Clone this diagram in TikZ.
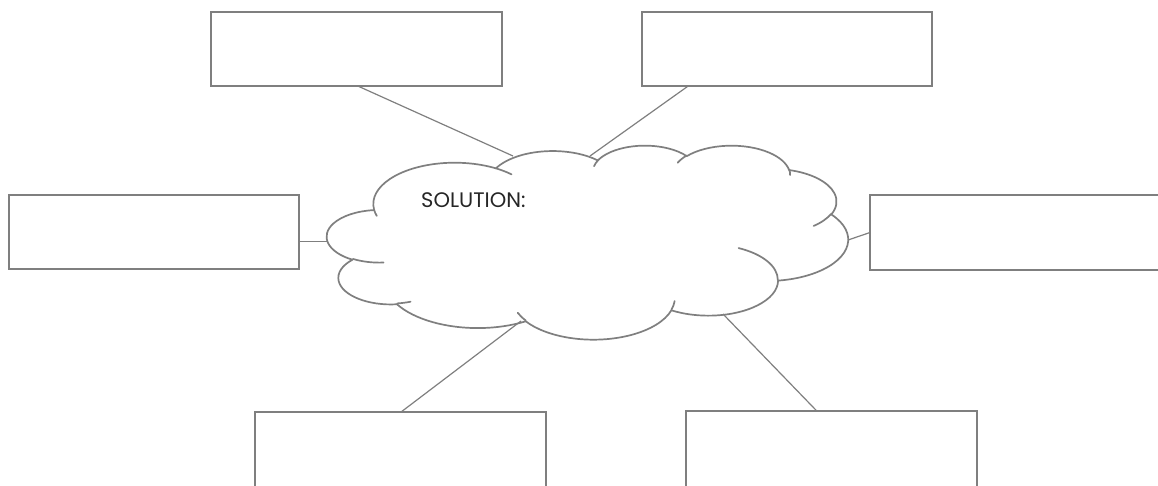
\documentclass[tikz,border=0pt]{standalone}
\usepackage{fontspec}
\setmainfont{Poppins}
\usetikzlibrary{calc}
\definecolor{linegray}{HTML}{7F7F7F}
\definecolor{textgray}{HTML}{262626}
% elliptical arc given with DrawingML "visual" angles
\newcommand\vsarc[4]{arc[x radius=#1, y radius=#2, start angle={visang(#1,#2,#3)}, end angle={visang(#1,#2,#3+#4)}]}
\begin{document}
\begin{tikzpicture}[x=1pt,y=-1pt,
  declare function={visang(\ra,\rb,\th)=\th+Mod(atan2(\ra*sin(\th),\rb*cos(\th))-\th+540,360)-180;},
  boxnode/.style={draw=linegray,line width=2pt,rectangle,minimum width=290.5pt,minimum height=74.5pt,inner sep=0pt,outer sep=0pt},
  link/.style={draw=linegray,line width=1.2pt},
  cloudline/.style={draw=linegray,line width=1.7pt,line join=round,line cap=round},
]
\useasboundingbox (0,0) rectangle (1158,485);
\clip (0,0) rectangle (1158,485);

% boxes
\node[boxnode] (tl) at (356.25,48.85) {};
\node[boxnode] (tr) at (787,48.85) {};
\node[boxnode] (lf) at (154,232.2) {};
\node[boxnode] (rt) at (1015.25,232.5) {};
\node[boxnode,minimum height=84pt] (bl) at (400.35,453.5) {};
\node[boxnode,minimum height=84pt] (br) at (831.35,453) {};

% cloud
\begin{scope}[shift={(327,145)},xscale=1.2060,yscale=0.4490]
\path[cloudline,fill=white] (39.00,143.70)
  \vsarc{67.53}{91.90}{-190.4875}{123.7805}
  \vsarc{53.33}{72.67}{-144.1024}{89.9452}
  \vsarc{43.65}{59.45}{-145.8079}{99.7230}
  \vsarc{48.57}{65.95}{-130.9861}{117.2417}
  \vsarc{53.33}{72.73}{-78.7089}{109.0269}
  \vsarc{67.75}{92.20}{-46.2673}{130.2690}
  \vsarc{57.85}{78.67}{0.6250}{114.0333}
  \vsarc{67.52}{92.15}{22.4516}{115.1726}
  \vsarc{77.20}{105.43}{66.2426}{75.7110}
  \vsarc{43.60}{59.18}{-274.9421}{146.7356}
  \vsarc{43.45}{59.45}{-246.8285}{152.5189}
  -- cycle;
\path[cloudline]
  (46.93,261.77) \vsarc{43.45}{59.45}{86.7420}{26.4295}
  (69.28,348.99) \vsarc{43.60}{59.18}{73.6105}{11.4475}
  (164.78,390.90) \vsarc{67.52}{92.15}{137.6242}{14.0811}
  (288.27,347.51) \vsarc{67.52}{92.15}{6.4533}{15.9984}
  (341.29,229.54) \vsarc{57.85}{78.67}{-70.2924}{70.9174}
  (417.98,153.54) \vsarc{53.33}{72.73}{30.3180}{27.7515}
  (383.24,54.26) \vsarc{48.57}{65.95}{-13.7443}{14.8589}
  (290.78,39.52) \vsarc{48.57}{65.95}{-149.1815}{18.1954}
  (221.41,47.20) \vsarc{43.65}{59.45}{-163.4943}{17.6864}
  (140.00,51.92) \vsarc{67.53}{91.90}{-66.7070}{12.3194}
  (41.27,157.89) \vsarc{67.53}{91.90}{157.6544}{11.8582};
\end{scope}

% attachment points on the cloud
\coordinate (c1) at (513,156);
\coordinate (c2) at (590,156);
\coordinate (c3) at (327.5,241.7);
\coordinate (c4) at (848,240);
\coordinate (c5) at (521,321);
\coordinate (c6) at (723,314);

% connectors
\draw[link] ($(tl.south)+(1.75,0)$) -- (c1);
\draw[link] ($(tr.south west)+(46.3,0)$) -- (c2);
\draw[link] ($(lf.east)+(0,9.5)$) -- (c3);
\draw[link] (rt.west) -- (c4);
\draw[link] ($(bl.north)+(1.35,0)$) -- (c5);
\draw[link] ($(br.north west)+(130.7,0)$) -- (c6);

\node[anchor=base west,text=textgray,font=\fontsize{21}{21}\selectfont,inner sep=0pt] (sol) at (421,207) {SOLUTION:};
\end{tikzpicture}
\end{document}
